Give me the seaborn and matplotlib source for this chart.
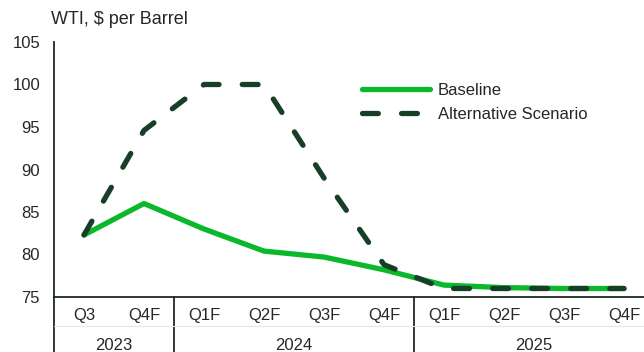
import matplotlib
matplotlib.use("Agg")
import matplotlib.pyplot as plt
import matplotlib.transforms as mtransforms
import seaborn as sns
import pandas as pd
from matplotlib.lines import Line2D

quarters = ["Q3", "Q4F", "Q1F", "Q2F", "Q3F", "Q4F", "Q1F", "Q2F", "Q3F", "Q4F"]
years = ["2023", "2024", "2025"]
year_spans = [(0, 1), (2, 5), (6, 9)]
baseline = [82.3, 86.0, 83.0, 80.4, 79.7, 78.2, 76.4, 76.1, 76.0, 76.0]
alternative = [82.3, 94.6, 100.0, 100.0, 89.0, 78.8, 76.0, 76.0, 76.0, 76.0]
yticks = [75, 80, 85, 90, 95, 100, 105]

GREEN = "#0bb82c"
DARK = "#173f26"
TEXT = "#262626"
SPINE = "#1c2a1c"
FS = 12

sns.set_theme(style="white")
plt.rcParams["font.family"] = ["Liberation Sans", "DejaVu Sans"]

W, H = 644, 352
fig = plt.figure(figsize=(W / 100, H / 100), dpi=100)
x0, x1 = 54, 654
y_top, y_bot = 42, 297
ax = fig.add_axes([x0 / W, (H - y_bot) / H, (x1 - x0) / W, (y_bot - y_top) / H])

idx = list(range(len(quarters)))
df = pd.DataFrame({"pos": idx, "Baseline": baseline, "Alternative Scenario": alternative})

sns.lineplot(data=df, x="pos", y="Baseline", ax=ax, color=GREEN, linewidth=3.8,
             solid_capstyle="round", solid_joinstyle="round", legend=False)
sns.lineplot(data=df, x="pos", y="Alternative Scenario", ax=ax, color=DARK, linewidth=3.8,
             dashes=False, legend=False)
alt_line = ax.get_lines()[-1]
alt_line.set_dashes((3.0, 4.4))
alt_line.set_dash_capstyle("round")

ax.set_xlim(-0.5, 9.5)
ax.set_ylim(75, 105)
ax.set_yticks(yticks)
ax.set_yticklabels([str(v) for v in yticks], fontsize=FS, color=TEXT)
ax.tick_params(axis="y", length=0, pad=10)
ax.set_xticks(idx)
ax.set_xticklabels(quarters, fontsize=FS, color=TEXT)
ax.tick_params(axis="x", length=0, pad=8)
ax.set_xlabel("")
ax.set_ylabel("")

for side in ["top", "right"]:
    ax.spines[side].set_visible(False)
for side in ["left", "bottom"]:
    ax.spines[side].set_color(SPINE)
    ax.spines[side].set_linewidth(1.3)

# category-axis extensions below the plot area
trans = mtransforms.blended_transform_factory(ax.transData, fig.transFigure)
yaxis_fig = (H - y_bot) / H
for xs in [-0.5, 1.5, 5.5]:
    ax.add_line(Line2D([xs, xs], [0.0, yaxis_fig], transform=trans,
                       color=SPINE, linewidth=1.3, clip_on=False))
ax.add_line(Line2D([-0.5, 9.5], [(H - 326) / H] * 2, transform=trans,
                   color="#e6e6e6", linewidth=0.8, clip_on=False))
for label, (a, b) in zip(years, year_spans):
    ax.text((a + b) / 2, (H - 346) / H, label, transform=trans, ha="center", va="center",
            fontsize=FS, color=TEXT, clip_on=False)

fig.text(51 / W, (H - 20) / H, r"WTI, \$ per Barrel", fontsize=13, color=TEXT,
         ha="left", va="center")

handles = [Line2D([], [], color=GREEN, linewidth=3.8, solid_capstyle="round"),
           Line2D([], [], color=DARK, linewidth=3.8, dashes=(3.0, 4.4), dash_capstyle="round")]
leg = fig.legend(handles, ["Baseline", "Alternative Scenario"], loc="upper left",
                 bbox_to_anchor=(355 / W, (H - 76) / H), frameon=False, fontsize=FS,
                 handlelength=4.1, handletextpad=0.45, labelspacing=0.55, borderaxespad=0)
for t in leg.get_texts():
    t.set_color(TEXT)

fig.savefig("out.png", dpi=100)
